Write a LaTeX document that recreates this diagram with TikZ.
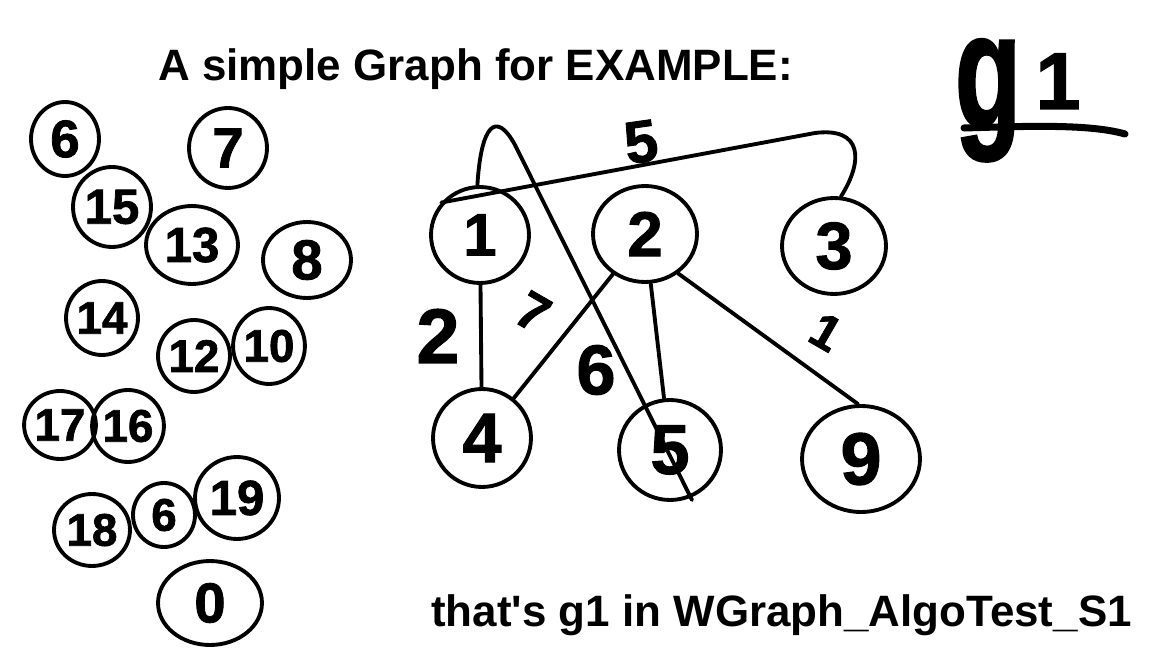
\documentclass[tikz,border=0pt]{standalone}
\usepackage{fontspec}
\setmainfont{Liberation Sans}
\usetikzlibrary{shapes.geometric}
\newfontfamily\handfont{Liberation Sans}[FakeBold=1.5]
\newfontfamily\capfont{Liberation Sans}[Ligatures=TeXOff]
\tikzset{
  ell/.style={ellipse, draw, line width=2.2pt, inner sep=0pt},
  sz/.style 2 args={minimum width=#1*0.04cm, minimum height=#2*0.04cm},
  hd/.style={font=\handfont\bfseries\fontsize{#1}{#1}\selectfont},
  edge/.style={line width=2.2pt, line cap=round},
  wlab/.style={hd=#1, inner sep=0pt},
  txt/.style={font=\capfont\bfseries\fontsize{25}{25}\selectfont, inner sep=0pt, anchor=base west}
}
\begin{document}
\begin{tikzpicture}[x=0.02cm, y=-0.02cm]
\useasboundingbox (0,0) rectangle (1152,648);
% title and caption
\node[txt] (title) at (158,81) {A simple Graph for EXAMPLE:};
\node[txt] (caption) at (431,626) {that's g1 in WGraph\_AlgoTest\_S1};
% g1 mark
\node[hd=62, inner sep=0pt, anchor=base] (gmark) at (988,127) {\scalebox{1}[1.5]{g}};
\node[hd=46, inner sep=0pt, anchor=base] (onemark) at (1058,109) {1};
\coordinate (ulA) at (964,128);
\coordinate (ulB) at (1125,134);
\draw[line width=4pt, line cap=round] (ulA) .. controls (1030,126) and (1090,124) .. (ulB);
% unused vertices
\node[ell, sz={34}{37}, hd=30] (u6) at (65,139) {6};
\node[ell, sz={39}{40}, hd=32] (u7) at (228,148) {7};
\node[ell, sz={39}{40}, hd=28] (u15) at (112,207) {15};
\node[ell, sz={46}{39}, hd=28] (u13) at (192,245) {13};
\node[ell, sz={44}{38}, hd=32] (u8) at (307,260) {8};
\node[ell, sz={36}{37}, hd=26] (u14) at (102,318) {14};
\node[ell, sz={36}{36}, hd=26] (u12) at (194,356) {12};
\node[ell, sz={34}{38}, hd=26] (u10) at (269,346) {10};
\node[ell, sz={34}{34}, hd=26] (u17) at (60,425) {17};
\node[ell, sz={35}{36}, hd=26] (u16) at (128,426) {16};
\node[ell, sz={38}{36}, hd=26] (u18) at (92,530) {18};
\node[ell, sz={31}{32}, hd=26] (u6b) at (164,515) {6};
\node[ell, sz={42}{41}, hd=28] (u19) at (237,498) {19};
\node[ell, sz={52}{42}, hd=32] (u0) at (210,603) {0};
% graph vertices
\node[ell, sz={49}{48}, hd=34] (n1) at (480,235) {1};
\node[ell, sz={52}{48}, hd=36] (n2) at (645,234) {2};
\node[ell, sz={52}{48}, hd=38] (n3) at (834,246) {3};
\node[ell, sz={49}{49}, hd=40] (n4) at (482,438) {4};
\node[ell, sz={51}{50}, hd=40] (n5) at (670,450) {5};
\node[ell, sz={59}{53}, hd=42] (n9) at (861,459) {9};
% edges
\draw[edge] (n1) -- (n4);
\draw[edge] (n2) -- (n4);
\draw[edge] (n2) -- (n5);
\draw[edge] (n2.-50) -- (n9.93);
\coordinate (e15) at (692,500);
\draw[edge] (n1.93) .. controls (481,125) and (496,110) .. (515,145) -- (e15);
\draw[edge] (n1.140) -- (815,133) .. controls (862,127) and (864,160) .. (n3.82);
% weights
\node[wlab=44] (w14) at (438,336) {2};
\node[wlab=30, rotate=-30] (w24) at (533,312) {7};
\node[wlab=40] (w15) at (596,370) {6};
\node[wlab=34, rotate=8] (w13) at (641,142) {5};
\node[wlab=28, rotate=-30] (w29) at (826,332) {1};
\end{tikzpicture}
\end{document}
